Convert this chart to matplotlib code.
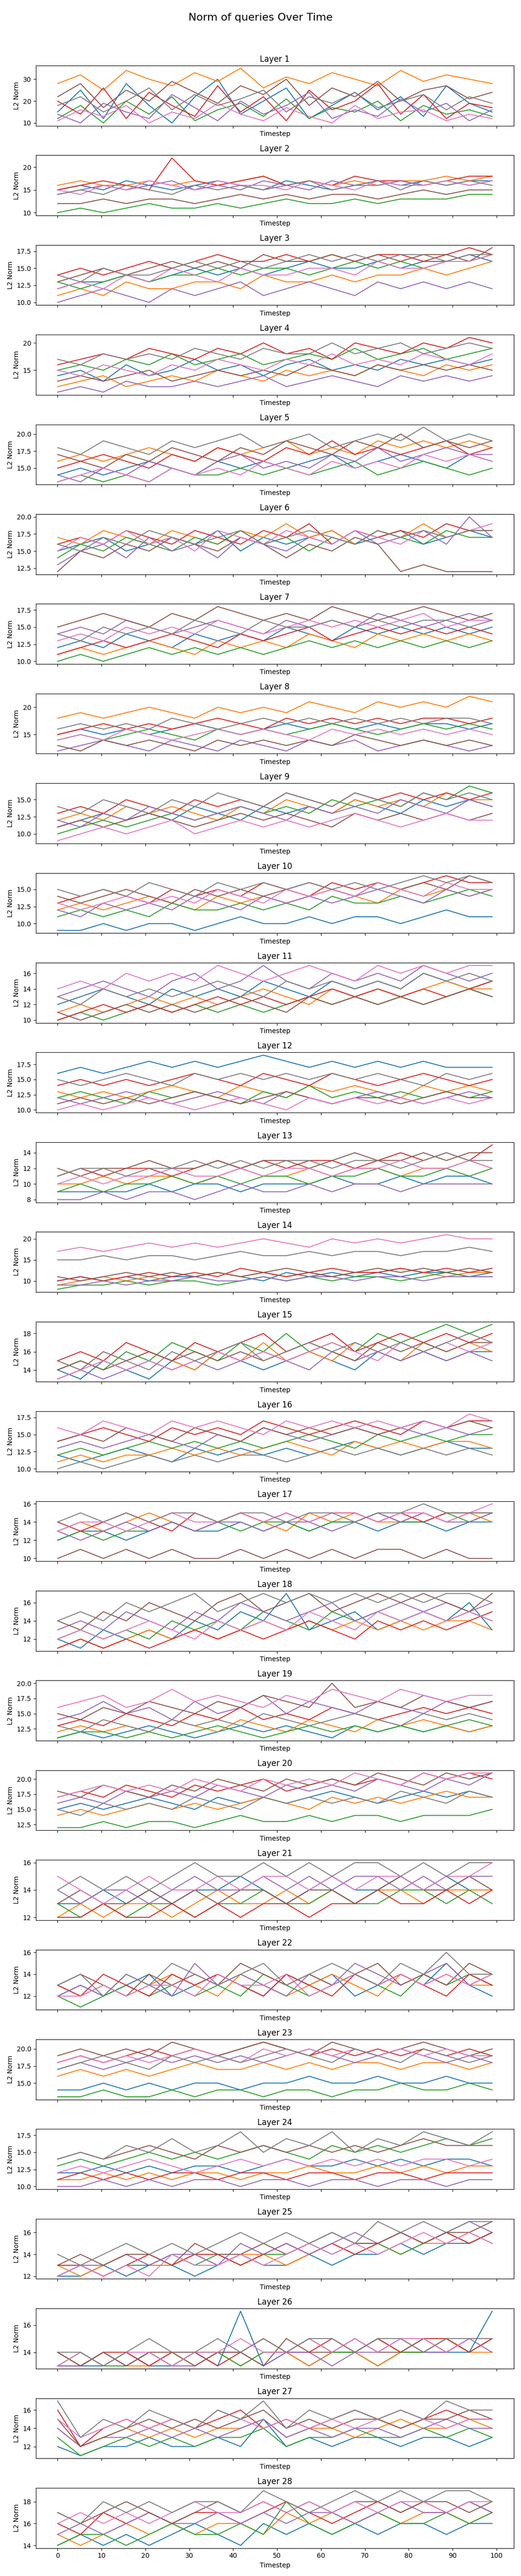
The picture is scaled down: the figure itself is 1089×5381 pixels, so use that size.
"""Norm of queries over time, one panel per layer."""

import numpy as np
import matplotlib
matplotlib.use('Agg')
import matplotlib.pyplot as plt

timesteps = np.linspace(0, 99, 20)

L1 = """15 25 12 28 18 10 22 30 14 20 26 12 18 24 16 22 13 27 19 15
28 32 25 34 30 27 33 29 35 26 31 28 33 30 27 34 29 32 30 28
12 18 10 20 14 22 11 16 19 13 21 12 17 15 20 11 18 14 16 13
20 14 26 12 24 18 13 27 15 22 11 25 16 20 28 14 23 12 19 17
14 10 19 15 12 23 17 11 20 14 18 24 12 16 13 21 15 19 11 16
22 28 17 25 20 29 24 19 27 23 30 18 26 22 29 20 25 27 21 24
11 16 13 18 10 15 12 19 14 11 17 13 10 18 12 15 16 11 14 12
18 22 15 20 26 16 23 18 21 25 15 22 19 24 17 20 23 16 22 19"""
L2 = """15 16 15 17 16 15 16 17 16 15 17 16 15 16 17 16 17 16 17 17
16 17 16 16 17 16 17 16 17 18 16 17 16 17 16 17 17 18 17 18
10 11 10 11 12 11 11 12 11 12 13 12 12 13 12 13 13 13 14 14
15 16 17 16 15 22 17 16 17 18 16 17 16 18 17 17 16 17 18 18
14 15 16 15 16 17 15 16 15 17 16 15 17 16 16 17 16 17 16 17
12 12 13 12 13 13 12 13 14 13 14 13 14 14 13 14 15 14 15 15
15 14 16 15 17 16 15 17 16 16 15 17 16 15 17 16 16 17 16 17
14 15 14 16 15 14 16 15 16 15 16 17 15 16 17 15 17 16 17 16"""
L3 = """12 13 13 14 13 14 15 14 15 14 15 16 15 15 16 15 16 16 17 16
11 12 11 13 12 12 13 13 12 14 13 13 14 13 14 14 15 14 15 16
13 12 13 14 13 14 14 15 14 15 15 14 15 16 15 16 15 16 16 17
14 15 14 15 16 15 16 17 16 16 17 16 17 16 17 17 16 17 18 17
10 11 12 11 10 12 11 12 13 11 12 13 12 11 13 12 13 12 13 12
13 14 15 14 15 16 15 16 15 17 16 16 17 16 17 16 17 17 16 18
12 13 12 14 13 15 14 13 15 14 14 15 15 14 16 15 15 16 16 17
14 13 15 14 14 15 16 15 16 15 16 17 16 17 16 17 17 16 17 17"""
L4 = """14 15 13 16 14 15 17 15 16 14 16 17 15 16 15 17 16 17 16 17
12 13 14 12 13 14 13 15 14 13 15 14 15 14 16 15 14 16 15 16
15 16 15 17 16 18 16 17 18 16 17 18 17 19 17 18 19 17 18 19
16 17 18 17 19 18 17 19 18 20 18 19 17 20 19 18 20 19 21 20
11 12 11 13 12 12 13 12 13 14 12 13 14 13 12 14 13 14 13 14
13 14 13 14 15 13 14 15 14 15 14 16 15 14 16 15 16 15 16 15
15 14 16 15 14 16 15 17 16 15 17 16 18 16 17 16 18 17 16 18
17 16 18 17 18 17 19 18 17 19 18 18 20 18 19 20 18 19 20 19"""
L5 = """14 15 14 15 16 15 14 16 15 16 15 16 17 15 16 17 16 15 17 16
16 17 16 17 18 17 16 18 17 18 19 17 18 17 19 18 19 18 19 18
13 14 13 14 13 15 14 14 15 14 15 14 15 16 14 15 16 15 14 15
15 16 17 16 15 17 16 18 17 16 18 17 19 17 18 17 18 19 17 18
14 13 15 14 16 15 14 16 17 15 16 15 17 16 18 16 17 18 17 17
17 16 15 17 16 18 17 16 18 17 19 18 17 19 18 20 18 19 18 19
13 14 15 14 13 15 14 15 14 16 15 14 16 15 16 15 17 16 17 16
18 17 19 18 17 19 18 19 20 18 19 20 18 19 20 19 21 19 20 19"""
L6 = """15 16 17 15 16 17 16 18 15 17 16 17 18 16 17 18 16 17 18 17
17 16 18 17 16 18 17 16 18 17 19 17 18 16 18 17 19 17 18 18
14 16 15 17 16 15 17 16 18 16 17 15 17 16 18 17 16 18 17 17
16 17 16 18 17 16 18 17 16 18 17 19 16 18 17 18 17 19 18 18
13 15 16 14 17 15 16 14 17 16 15 17 16 18 16 17 18 16 20 17
12 15 14 16 15 17 16 15 17 16 14 16 15 17 16 12 13 12 12 12
15 17 16 18 16 17 15 18 17 16 18 17 16 18 17 16 18 17 18 19
16 15 17 16 18 17 16 17 18 16 17 18 17 16 18 17 18 17 18 18"""
L7 = """12 13 12 14 13 12 14 13 14 13 15 14 13 15 14 15 14 15 14 15
11 12 11 12 13 12 11 13 12 13 12 14 13 12 14 13 14 13 14 13
10 11 10 11 12 11 12 11 12 11 12 13 12 13 12 13 12 13 12 13
11 12 13 12 13 14 13 12 14 13 14 15 13 14 15 14 15 14 15 14
14 15 14 16 15 14 15 16 15 14 16 15 16 15 17 16 15 16 17 16
15 16 17 16 15 17 16 18 17 16 17 16 18 17 16 17 18 17 16 17
13 14 13 15 14 15 14 16 15 14 15 16 15 16 15 16 17 15 16 16
14 13 15 14 15 14 16 15 14 16 15 15 16 15 16 15 16 16 15 16"""
L8 = """15 16 15 16 15 16 17 16 15 16 17 16 17 16 17 16 17 17 16 17
18 19 18 19 20 19 18 20 19 20 19 21 20 19 21 20 21 20 22 21
14 15 14 15 16 15 14 16 15 16 15 16 17 16 15 16 17 16 17 16
15 16 17 16 17 16 17 18 17 16 18 17 18 17 18 17 18 18 17 18
12 13 14 13 12 14 13 12 14 13 12 14 13 14 12 13 14 13 12 13
13 12 14 13 14 13 12 14 13 14 13 14 13 15 14 13 14 13 14 13
14 15 14 16 15 14 15 16 15 16 15 14 16 15 16 15 16 15 16 15
16 17 16 17 16 18 17 16 17 18 17 18 17 18 17 18 17 18 18 17"""
L9 = """11 12 13 12 13 12 14 13 12 14 13 14 13 15 14 13 15 14 15 14
12 13 12 14 13 14 13 12 14 13 15 14 13 15 14 15 14 16 15 15
10 11 12 11 12 13 12 13 14 13 14 13 15 14 15 14 16 15 17 16
13 14 13 15 14 13 15 14 15 14 16 15 14 16 15 16 15 16 15 16
12 11 13 12 14 13 12 13 14 13 12 14 13 14 13 15 14 13 15 14
11 12 11 12 13 12 11 12 13 12 13 12 11 13 12 13 12 13 12 13
9 10 11 10 11 12 10 11 12 11 12 11 12 13 12 11 12 13 12 12
14 13 15 14 13 15 14 16 15 14 16 15 14 16 15 14 16 15 16 15"""
L10 = """9 9 10 9 10 10 9 10 11 10 10 11 10 11 11 10 11 12 11 11
12 13 12 13 14 13 12 14 13 14 13 14 15 14 13 15 14 15 14 15
11 12 11 12 11 13 12 12 13 12 13 12 14 13 13 14 13 14 15 14
13 14 15 14 13 15 14 15 14 16 15 14 16 15 16 15 16 17 16 16
12 11 13 12 13 12 14 13 12 14 13 14 13 14 15 14 13 15 14 15
14 13 14 15 14 13 15 14 15 14 15 16 15 14 16 15 16 15 17 16
13 12 13 14 13 14 13 15 14 13 15 14 15 14 16 15 14 16 15 15
15 14 15 14 16 15 14 16 15 16 15 16 15 16 15 16 17 16 17 16"""
L11 = """12 13 14 13 12 14 13 14 13 15 14 13 15 14 15 14 16 15 14 15
11 12 11 12 13 12 13 12 13 14 13 12 14 13 14 13 14 15 14 14
10 11 10 11 12 11 12 11 12 11 12 13 12 13 12 13 12 13 14 13
10 11 12 11 12 11 12 13 12 13 12 13 14 13 14 13 14 13 14 15
13 14 15 14 13 15 16 14 15 17 15 14 16 15 16 15 17 16 15 16
11 10 11 12 11 12 11 12 13 12 11 13 12 13 12 13 12 13 14 13
14 15 14 16 15 16 15 17 16 15 16 17 16 15 17 16 17 16 17 17
13 12 14 13 14 13 14 15 14 13 15 14 15 14 15 14 16 15 16 15"""
L12 = """16 17 16 17 18 17 18 17 18 19 18 17 18 17 18 17 18 17 17 17
13 12 13 12 13 14 13 12 14 13 12 14 13 14 13 12 14 13 14 13
12 13 12 11 13 12 13 12 11 13 12 14 12 13 12 13 12 13 12 13
14 15 14 15 14 15 16 15 14 16 15 14 16 15 14 15 16 15 14 15
12 11 12 13 12 11 12 13 12 11 13 12 11 12 13 12 11 12 13 12
11 12 11 12 11 12 13 12 11 12 13 12 11 12 12 11 12 13 12 12
10 11 10 11 12 11 10 11 12 11 10 12 11 12 11 12 11 12 11 12
15 14 15 16 15 14 16 15 16 15 16 15 16 15 16 15 14 16 15 16"""
L13 = """9 9 9 9 10 9 10 10 9 10 10 10 11 10 10 11 10 11 11 10
10 10 11 10 11 11 10 11 12 11 11 12 11 12 12 11 12 12 13 12
9 10 9 10 10 11 10 11 10 11 11 10 11 11 12 11 11 12 11 12
11 12 11 12 12 11 12 13 12 13 12 13 13 12 13 14 13 14 13 15
8 8 9 8 9 9 8 9 10 9 9 10 9 10 10 9 10 10 10 10
12 11 12 12 13 12 12 13 12 13 13 12 13 14 13 13 14 13 14 14
10 11 10 11 11 12 11 11 12 11 12 12 11 12 12 13 12 12 13 12
11 12 12 11 12 12 13 12 13 12 13 13 12 13 13 12 13 14 13 13"""
L14 = """10 11 10 11 10 11 11 12 11 10 12 11 12 11 12 11 12 12 11 12
9 10 11 10 11 10 11 12 11 12 11 12 11 12 12 13 12 11 12 12
8 9 9 10 9 10 10 9 10 11 10 11 10 11 11 10 11 12 11 11
10 11 10 11 12 11 12 11 13 12 11 12 13 12 12 13 12 13 12 13
9 9 10 9 10 10 11 10 10 11 10 11 11 10 11 11 10 11 11 11
11 10 11 12 11 12 11 12 11 12 13 12 11 12 13 12 13 12 13 12
17 18 17 18 19 18 19 18 19 20 19 18 20 19 20 19 20 21 20 20
15 15 16 15 16 16 15 16 17 16 16 17 16 17 17 16 17 17 18 17"""
L15 = """14 13 15 14 13 15 14 16 15 14 15 16 15 14 16 15 16 15 16 16
15 14 16 15 16 15 14 16 15 17 15 16 15 17 16 15 17 16 17 16
14 15 14 16 15 17 16 15 17 16 18 16 17 16 18 17 18 19 18 19
15 16 15 17 16 15 17 16 17 18 16 17 18 16 17 18 17 18 17 18
13 14 13 14 15 14 15 14 15 16 15 14 16 15 16 15 16 15 16 15
14 15 14 15 16 15 16 15 16 15 16 17 16 15 17 16 17 16 17 17
13 14 15 14 15 14 15 16 15 16 15 16 17 16 15 17 16 17 16 17
15 14 16 15 14 16 15 16 17 15 16 17 16 17 16 17 16 17 18 17"""
L16 = """12 11 12 13 12 11 13 12 13 12 13 12 13 14 13 12 13 14 13 13
11 12 11 12 12 13 12 13 12 13 14 13 12 14 13 14 13 14 14 13
12 13 12 13 14 13 14 13 14 13 14 15 14 13 15 14 15 14 15 15
14 15 16 15 14 16 15 16 15 17 16 15 16 17 16 15 17 16 17 17
13 14 13 14 15 14 13 15 14 16 15 14 15 16 15 16 15 16 15 16
14 15 14 16 15 14 16 15 14 16 15 16 15 16 15 16 17 16 17 16
16 15 17 16 15 17 16 17 16 15 17 16 17 16 17 16 17 16 18 17
10 11 10 11 12 11 12 11 12 12 11 12 13 12 13 12 13 12 13 12"""
L17 = """12 13 13 12 13 14 13 13 14 13 14 13 14 14 13 14 14 13 14 14
13 14 13 14 15 14 13 14 15 14 13 15 14 15 14 14 15 14 15 14
12 13 12 13 13 14 13 14 13 14 14 13 14 14 15 14 14 15 14 15
14 13 14 15 14 13 15 14 15 14 15 14 15 15 14 15 14 15 15 15
13 12 13 14 13 14 13 14 14 13 14 14 13 14 15 14 15 14 14 15
10 11 10 11 10 11 10 10 11 10 11 10 11 10 11 11 10 11 10 10
13 14 14 13 14 15 14 14 15 14 15 14 15 15 14 15 15 14 15 16
14 15 14 15 14 15 15 14 15 15 14 15 15 14 15 15 16 15 15 15"""
L18 = """12 11 13 12 13 12 14 13 15 14 17 13 14 15 13 14 15 14 16 13
11 12 11 12 13 12 13 12 13 14 13 14 13 14 13 14 13 14 14 13
12 13 12 13 12 14 13 14 13 15 14 13 15 14 15 14 15 14 15 14
11 12 11 12 11 12 13 12 13 12 13 14 13 12 14 13 14 13 14 15
13 14 13 15 14 13 15 14 16 15 14 15 16 14 15 16 15 16 15 16
14 13 15 14 16 15 14 16 17 15 16 17 15 16 17 16 17 16 15 17
12 13 12 13 14 13 12 14 13 14 13 15 14 13 15 14 15 14 15 14
14 15 14 16 15 16 17 15 16 17 16 17 16 17 16 17 16 17 17 16"""
L19 = """11 12 11 12 13 12 11 12 13 12 13 12 11 13 12 13 12 13 12 13
12 13 12 13 12 14 13 12 14 13 12 14 13 12 14 13 14 13 12 13
11 12 12 11 12 11 12 13 12 11 12 13 12 13 12 13 12 13 14 13
13 14 13 15 14 13 15 14 16 14 15 14 16 15 14 15 16 15 16 15
14 15 17 15 16 14 17 15 16 18 15 17 16 15 17 16 15 17 16 17
15 14 16 15 17 16 15 17 16 18 17 16 20 16 17 16 18 17 16 17
16 17 18 16 17 19 17 18 17 16 18 17 19 18 17 19 18 17 18 18
13 12 14 13 12 14 13 14 13 15 14 13 14 15 14 13 15 14 15 14"""
L20 = """15 16 15 16 17 16 15 17 16 17 16 17 18 17 16 17 18 17 18 17
14 15 14 15 16 15 16 15 16 17 16 15 17 16 17 16 17 18 17 17
12 12 13 12 13 13 12 13 14 13 13 14 13 14 14 13 14 14 14 15
17 18 17 19 18 17 19 18 19 20 18 19 20 19 20 19 21 20 21 20
16 17 16 18 17 18 17 19 18 17 19 18 19 18 20 19 18 20 19 21
18 17 19 18 17 19 18 20 19 18 20 19 20 19 21 20 19 21 20 21
17 18 19 18 19 18 20 19 18 20 19 20 19 21 20 19 21 20 21 21
15 14 16 15 16 15 17 16 15 17 16 17 16 17 16 18 17 16 18 17"""
L21 = """13 13 14 13 14 13 14 14 15 14 13 14 15 14 14 15 14 15 14 14
12 13 12 13 13 12 13 14 13 13 14 13 14 13 14 14 13 14 14 14
13 12 13 12 13 13 12 13 13 14 13 13 14 13 13 14 14 13 14 13
12 12 13 12 12 13 12 13 12 13 13 12 13 13 14 13 13 14 13 14
14 13 14 14 13 14 15 14 14 15 14 15 14 15 15 14 15 14 15 15
13 14 13 13 14 13 14 13 14 14 13 14 14 13 14 15 14 14 15 14
15 14 13 14 15 14 14 15 14 15 15 14 15 14 15 15 14 15 15 16
14 15 14 15 14 15 16 15 15 16 15 16 15 16 16 15 16 15 16 16"""
L22 = """12 13 12 13 14 12 13 14 13 12 14 13 14 12 13 14 13 15 13 12
13 12 13 12 13 14 13 12 14 13 12 13 14 13 12 14 13 14 13 13
12 11 12 13 12 13 12 13 12 14 13 12 13 14 13 12 14 13 14 13
13 12 14 13 12 14 13 14 13 12 14 13 12 14 13 14 13 12 14 13
12 13 12 14 13 12 15 13 14 13 12 14 13 15 14 13 14 15 13 14
13 14 13 12 14 13 14 13 15 14 13 14 13 14 15 13 14 13 15 14
12 12 13 12 13 13 12 14 13 13 14 12 13 14 13 14 13 14 13 14
13 14 12 14 13 15 14 13 14 15 13 14 15 14 13 15 14 16 14 14"""
L23 = """14 14 15 14 15 14 15 15 14 15 15 16 15 15 16 15 15 16 15 15
16 17 16 17 16 17 18 17 17 18 17 18 17 18 18 17 18 18 17 18
13 13 14 13 13 14 13 14 14 13 14 14 13 14 14 15 14 14 15 14
18 19 18 19 20 19 20 19 20 21 20 19 20 19 20 19 20 19 20 19
17 18 17 18 19 18 19 18 19 18 19 20 19 18 19 20 19 18 19 18
19 20 19 20 19 21 20 19 20 21 20 19 21 20 19 20 21 20 19 20
18 19 18 19 18 19 20 19 18 20 19 20 19 20 19 20 19 20 19 19
17 18 19 18 17 19 18 19 18 19 20 19 18 20 19 18 20 19 18 19"""
L24 = """12 12 13 12 13 12 13 13 12 13 14 13 13 14 13 14 13 14 14 13
11 11 12 11 12 11 12 12 11 12 12 13 12 12 13 12 13 12 13 13
13 14 13 14 15 14 15 14 15 16 15 14 16 15 16 15 16 17 16 17
11 12 11 12 11 12 12 11 12 12 11 12 12 11 12 12 11 12 12 12
10 10 11 10 11 10 11 11 10 11 11 10 11 11 10 11 11 10 11 11
14 15 14 15 16 15 14 16 15 16 15 16 15 16 15 16 17 16 16 16
12 13 12 13 14 13 12 13 14 13 14 13 14 13 14 13 14 14 13 14
14 15 14 16 15 17 15 16 18 15 17 16 18 15 17 16 18 17 16 18"""
L25 = """12 12 13 12 13 13 12 13 14 13 13 14 13 14 14 15 14 15 15 16
13 12 13 14 13 13 14 13 14 14 13 14 15 14 15 14 15 15 16 15
12 13 12 13 13 14 13 14 13 14 14 15 14 15 15 14 15 16 15 16
13 13 12 13 14 13 14 14 13 14 15 14 15 14 15 16 15 16 15 16
12 13 13 14 13 14 14 13 15 14 15 14 15 16 15 16 15 16 17 16
13 14 13 14 14 13 15 14 14 15 14 15 16 15 15 16 15 16 16 17
12 13 12 13 12 14 13 13 14 13 14 15 14 15 14 15 16 15 16 15
14 13 14 15 14 15 14 15 16 15 16 15 16 15 17 16 17 16 17 17"""
L26 = """13 13 13 14 13 13 14 13 17 13 14 13 14 14 13 14 14 14 14 17
13 13 14 13 13 14 13 14 13 14 14 13 14 14 13 14 14 15 14 14
13 14 13 13 14 13 14 14 13 14 14 15 14 14 15 14 14 15 14 15
14 13 14 14 13 14 14 13 14 15 14 14 15 14 15 14 15 15 14 15
13 13 14 13 14 13 13 14 14 13 14 14 13 14 14 15 14 14 15 14
14 13 14 13 14 14 13 14 14 13 15 14 14 15 14 14 15 14 15 15
13 14 13 14 14 13 14 14 15 14 14 15 14 15 14 15 15 14 15 15
14 14 13 14 15 14 14 15 14 15 14 15 15 14 15 15 14 15 15 15"""
L27 = """12 11 12 12 13 12 12 13 12 15 12 13 12 13 13 12 13 13 12 13
14 12 13 14 13 14 13 14 14 15 13 14 14 13 14 15 14 14 15 14
13 11 12 13 12 13 12 13 13 14 12 13 13 14 13 13 14 13 14 13
16 12 14 15 14 15 14 15 16 14 15 14 15 16 15 14 15 16 15 15
14 12 13 13 14 13 14 13 14 15 13 14 13 14 14 13 14 15 14 14
15 12 13 14 15 14 15 14 15 16 14 15 14 15 15 14 15 15 16 15
15 13 14 15 14 15 14 16 15 14 15 14 15 14 15 16 15 14 15 15
17 13 15 14 16 15 14 16 15 17 14 16 15 16 15 16 15 17 16 16"""
L28 = """14 15 14 15 14 15 16 15 14 16 15 16 15 16 15 16 16 15 16 16
15 14 15 16 15 16 15 16 16 15 17 16 17 16 17 16 17 17 16 17
14 15 15 14 15 16 15 15 16 15 18 16 15 16 17 16 16 17 16 17
16 15 17 16 17 16 17 17 16 17 18 17 16 17 18 17 18 17 18 17
15 16 15 16 17 16 16 17 16 17 16 17 17 16 17 18 17 17 18 17
17 16 17 18 17 16 17 18 17 18 17 18 17 18 18 17 18 18 17 18
16 17 16 17 16 17 18 17 17 18 17 18 17 18 17 18 18 17 18 18
17 16 18 17 18 17 18 18 17 19 18 17 18 19 18 19 18 19 19 18"""

layers = [L1, L2, L3, L4, L5, L6, L7, L8, L9, L10, L11, L12, L13, L14,
          L15, L16, L17, L18, L19, L20, L21, L22, L23, L24, L25, L26, L27, L28]


def parse(block):
    return [[float(v) for v in row.split()] for row in block.strip().splitlines()]


fig, axes = plt.subplots(len(layers), 1, figsize=(10.89, 53.81), sharex=True)
for i, (ax, block) in enumerate(zip(axes, layers)):
    for j, series in enumerate(parse(block)):
        ax.plot(timesteps, series, color=f'C{j}', linewidth=1.4)
    ax.set_title(f'Layer {i + 1}')
    ax.set_xlabel('Timestep')
    ax.set_ylabel('L2 Norm')
axes[-1].set_xticks(range(0, 101, 10))
axes[-1].tick_params(labelbottom=True)
fig.suptitle('Norm of queries Over Time', fontsize=16, y=0.995)
plt.tight_layout(rect=[0, 0, 1, 0.988])
plt.savefig('out.png', dpi=100)
